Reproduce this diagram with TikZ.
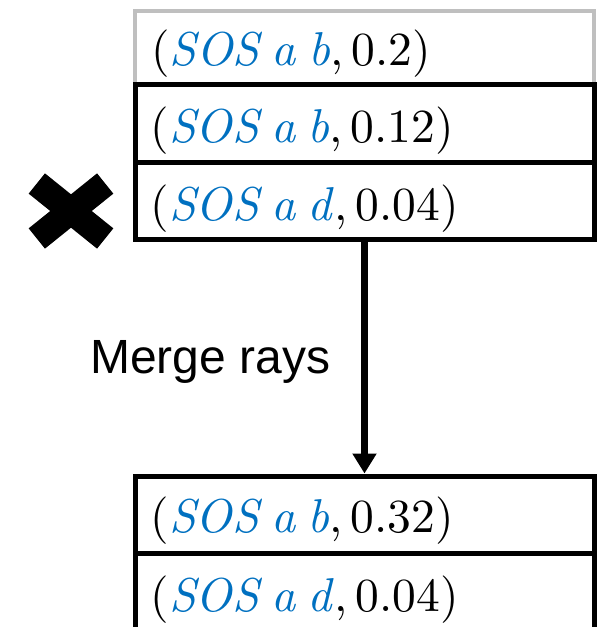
\documentclass[tikz,border=0pt]{standalone}
\usepackage{fontspec}
\newfontfamily\labelfont{Liberation Sans}
\newfontfamily\rayface{lmroman10}[Extension=.otf, UprightFont=*-regular, ItalicFont=*-italic]
\usetikzlibrary{arrows.meta,calc}
\definecolor{varblue}{HTML}{0070C0}
\definecolor{fadegray}{HTML}{BFBFBF}
% one hypothesis: (token sequence, score); tokens set with narrow gaps
\newcommand{\tok}{\hspace{0.26em}}
\newcommand{\ray}[2]{(\textcolor{varblue}{\itshape #1\/},\,#2)}
\begin{document}
\begin{tikzpicture}[x=1pt,y=-1pt,
  cell/.style={draw=black, line width=5pt, minimum width=459pt, inner sep=0pt},
  rayfont/.style={font=\rayface\fontsize{47.5}{52}\selectfont, inner sep=0pt, anchor=west},
  flow/.style={line width=6.5pt, -{Triangle[width=23pt,length=20pt]}}]
\path[use as bounding box] (0,0) rectangle (598,627);
\clip (0,0) rectangle (598,627);

% beam before merging
\node[cell, draw=fadegray, line width=4pt, minimum height=73pt] (top) at (364.5,47.5) {};
\node[cell, minimum height=78pt] (keep) at (364.5,123) {};
\node[cell, minimum height=77pt] (prune) at (364.5,200.5) {};

% beam after merging
\node[cell, minimum height=77pt] (merged) at (364.5,514.5) {};
\node[cell, minimum height=78pt] (rest) at (364.5,592) {};

% entries
\node[rayfont] (t1) at ($(top.west)+(18,6)$) {\ray{SOS\tok a\tok b}{0.2}};
\node[rayfont] (t2) at ($(keep.west)+(18,8)$) {\ray{SOS\tok a\tok b}{0.12}};
\node[rayfont] (t3) at ($(prune.west)+(18,8)$) {\ray{SOS\tok a\tok d}{0.04}};
\node[rayfont] (t4) at ($(merged.west)+(18,6.5)$) {\ray{SOS\tok a\tok b}{0.32}};
\node[rayfont] (t5) at ($(rest.west)+(18,8)$) {\ray{SOS\tok a\tok d}{0.04}};

% merge step
\draw[flow] (prune.south) -- (merged.north);
\node[font=\labelfont\fontsize{48}{56}\selectfont, anchor=base west, inner sep=0pt] (lbl) at (90,373) {Merge rays};

% rejection cross
\coordinate (cross) at (71,211);
\draw[line width=26pt]
  ($(cross)+(-34.2,-27.5)$) -- ($(cross)+(34.2,27.5)$)
  ($(cross)+(34.2,-27.5)$) -- ($(cross)+(-34.2,27.5)$);
\end{tikzpicture}
\end{document}
